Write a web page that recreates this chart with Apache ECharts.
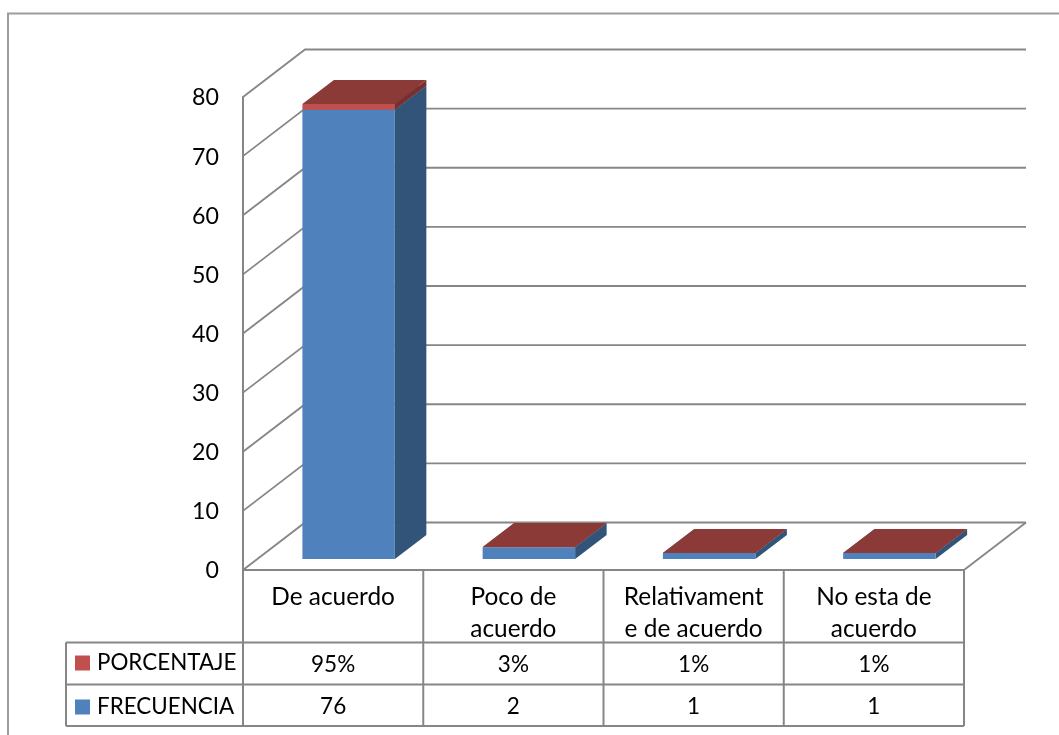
<!DOCTYPE html>
<html>
<head>
<meta charset="utf-8">
<style>html,body{margin:0;padding:0;background:#fff}#c{width:1059px;height:735px}</style>
<script src="https://cdn.jsdelivr.net/npm/echarts@6/dist/echarts.min.js"></script>
</head>
<body>
<div id="c"></div>
<script>
const categories = ['De acuerdo', 'Poco de\nacuerdo', 'Relativament\ne de acuerdo', 'No esta de\nacuerdo'];
const frecuencia = [76, 2, 1, 1];
const porcentaje = [0.95, 0.03, 0.01, 0.01];
const yTicks = [0, 10, 20, 30, 40, 50, 60, 70, 80];

const FONT = 'Lato';
const GRAY = '#868686';
const WALL = { dx: 62, dy: -47.5 };
const BAR = { dx: 31.5, dy: -24, ox: 15.5, oy: -11, frac: 0.513 };
const BLUE = { front: '#4F81BD', side: '#325479', top: '#3D6491' };
const RED = { front: '#C0504D', side: '#7A2F2D', top: '#8C3A38' };

function barItem(pal, startOf) {
  return function (params, api) {
    const i = api.value(0);
    const start = startOf(i);
    const end = start + api.value(1);
    const band = api.size([1, 0])[0];
    const w = band * BAR.frac;
    const cx = api.coord([i, 0])[0] + BAR.ox;
    const x0 = cx - w / 2, x1 = cx + w / 2;
    const yb = api.coord([i, start])[1] + BAR.oy;
    const yt = api.coord([i, end])[1] + BAR.oy;
    const d = BAR;
    return {
      type: 'group',
      children: [
        { type: 'polygon', shape: { points: [[x1, yb], [x1 + d.dx, yb + d.dy], [x1 + d.dx, yt + d.dy], [x1, yt]] }, style: { fill: pal.side } },
        { type: 'polygon', shape: { points: [[x0, yt], [x1, yt], [x1 + d.dx, yt + d.dy], [x0 + d.dx, yt + d.dy]] }, style: { fill: pal.top } },
        { type: 'polygon', shape: { points: [[x0, yb], [x1, yb], [x1, yt], [x0, yt]] }, style: { fill: pal.front } }
      ]
    };
  };
}

const chart = echarts.init(document.getElementById('c'), null, { renderer: 'canvas' });

const rowLabel = { fontFamily: FONT, fontSize: 22.5, color: '#000' };
const TABLE = { left: 66, top: 570, head: 642.5, row: 684.5, bottom: 726 };
const GRID = { left: 243, right: 964 };
const colX = categories.map((_, i) => GRID.left + (GRID.right - GRID.left) * (i + 1) / categories.length);
const tableLines = [
  [[GRID.left, TABLE.top], [GRID.left, TABLE.bottom]],
  [[TABLE.left, TABLE.head], [GRID.right, TABLE.head]],
  [[TABLE.left, TABLE.row], [GRID.right, TABLE.row]],
  [[TABLE.left, TABLE.bottom], [GRID.right, TABLE.bottom]],
  [[TABLE.left, TABLE.head], [TABLE.left, TABLE.bottom]]
].concat(colX.map(x => [[x, TABLE.top], [x, TABLE.bottom]]));

chart.setOption({
  animation: false,
  backgroundColor: '#fff',
  color: [BLUE.front, RED.front],
  textStyle: { fontFamily: FONT },
  grid: { left: GRID.left, top: 97, width: GRID.right - GRID.left, height: 473, containLabel: false },
  legend: {
    orient: 'vertical', left: 75, top: 652, padding: 0, itemWidth: 15, itemHeight: 15, itemGap: 22,
    icon: 'rect', data: ['PORCENTAJE', 'FRECUENCIA'], selectedMode: false,
    textStyle: { fontFamily: FONT, fontSize: 22.4, color: '#000', padding: [0, 0, 0, 2] }
  },
  xAxis: [
    { type: 'category', data: categories, position: 'bottom', axisTick: { show: false },
      axisLine: { show: true, onZero: false, lineStyle: { color: GRAY, width: 2 } },
      axisLabel: { fontFamily: FONT, fontSize: 24.4, color: '#000', margin: 11, lineHeight: 32, verticalAlign: 'top', interval: 0 } },
    { type: 'category', data: porcentaje.map(v => Math.round(v * 100) + '%'), position: 'bottom', offset: 72.5,
      axisTick: { show: false }, axisLine: { show: false },
      axisLabel: Object.assign({}, rowLabel, { margin: 11, interval: 0 }) },
    { type: 'category', data: frecuencia.map(String), position: 'bottom', offset: 114.5,
      axisTick: { show: false }, axisLine: { show: false },
      axisLabel: Object.assign({}, rowLabel, { margin: 11, interval: 0 }) }
  ],
  yAxis: {
    type: 'value', min: 0, max: 80, interval: 10,
    axisLine: { show: true, lineStyle: { color: GRAY, width: 2 } },
    axisTick: { show: false }, splitLine: { show: false },
    axisLabel: { fontFamily: FONT, fontSize: 23.2, color: '#000', margin: 24, align: 'right', verticalAlign: 'top', lineHeight: 2 }
  },
  series: [
    {
      type: 'custom', name: 'walls', silent: true, z: 1, data: yTicks.map(v => [0, v]),
      encode: { x: 0, y: 1 },
      renderItem(params, api) {
        const cs = params.coordSys;
        const y = api.coord([0, api.value(1)])[1];
        const x0 = cs.x, x1 = cs.x + WALL.dx, x2 = cs.x + cs.width + WALL.dx, yb = y + WALL.dy;
        return { type: 'polyline', shape: { points: [[x0, y], [x1, yb], [x2, yb]] },
          style: { fill: null, stroke: GRAY, lineWidth: 1.8 } };
      }
    },
    {
      type: 'custom', name: 'floor', silent: true, z: 1, data: [[0, 0]],
      encode: { x: 0, y: 1 },
      renderItem(params, api) {
        const cs = params.coordSys;
        const y = api.coord([0, 0])[1];
        return { type: 'line', shape: { x1: cs.x + cs.width, y1: y, x2: cs.x + cs.width + WALL.dx, y2: y + WALL.dy },
          style: { stroke: GRAY, lineWidth: 1.8 } };
      }
    },
    {
      type: 'custom', name: 'FRECUENCIA', z: 3, itemStyle: { color: BLUE.front },
      data: frecuencia.map((v, i) => [i, v]), encode: { x: 0, y: 1 },
      renderItem: barItem(BLUE, () => 0)
    },
    {
      type: 'custom', name: 'PORCENTAJE', z: 4, itemStyle: { color: RED.front },
      data: porcentaje.map((v, i) => [i, v]), encode: { x: 0, y: 1 },
      renderItem: barItem(RED, i => frecuencia[i])
    }
  ],
  graphic: [
    { type: 'polyline', silent: true, z: 0, shape: { points: [[8, 735], [8, 13.5], [1059, 13.5]] },
      style: { fill: null, stroke: '#9C9C9C', lineWidth: 2 } }
  ].concat(tableLines.map(p => ({
    type: 'polyline', silent: true, z: 0, shape: { points: p },
    style: { fill: null, stroke: GRAY, lineWidth: 2 }
  })))
});
</script>
</body>
</html>
